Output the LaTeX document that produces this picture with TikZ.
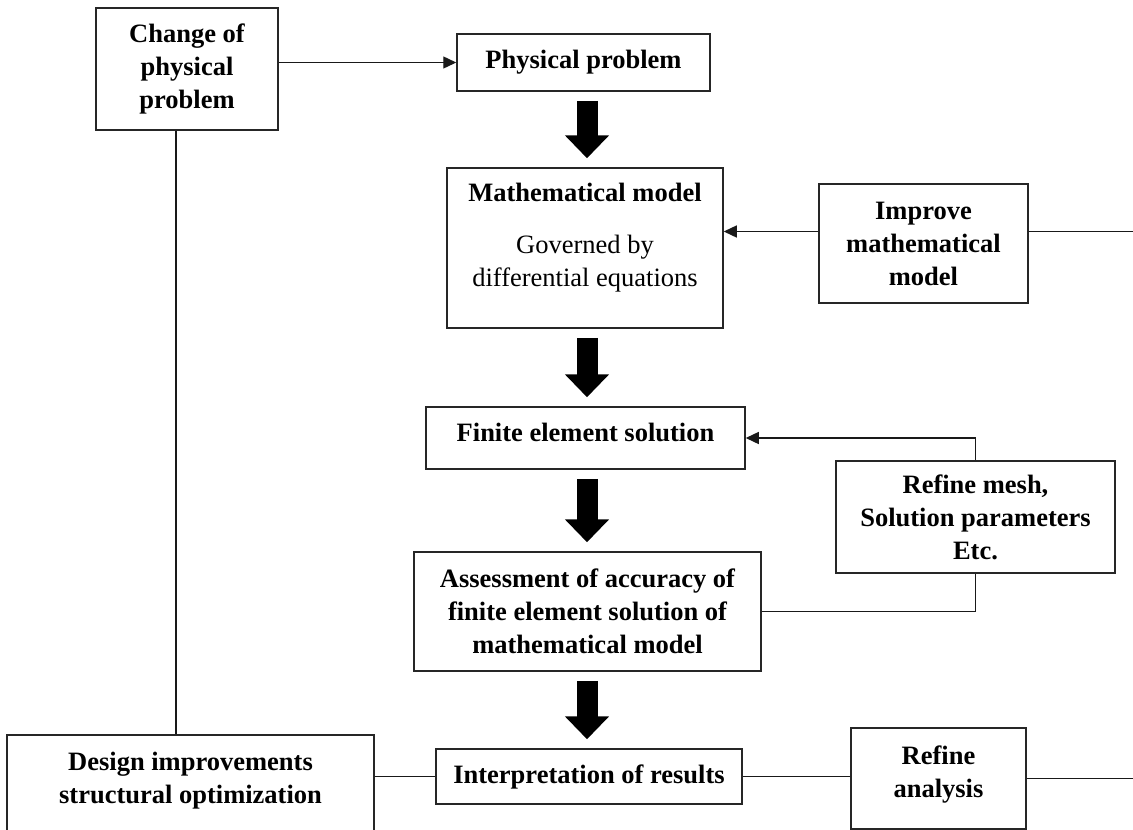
\documentclass[tikz,border=0pt]{standalone}
\usepackage{fontspec}
\setmainfont{Liberation Serif}
\usepackage{xcolor}
\usepackage{tikz}
\usetikzlibrary{arrows.meta,positioning,calc}

\begin{document}
\begin{tikzpicture}[
  x=1pt, y=-1pt,
  box/.style={draw=black!85, line width=1.5pt, rectangle, align=center, inner sep=0pt,
    font=\fontsize{26.5}{33}\selectfont\bfseries},
  ptr/.style={->, >={Triangle[length=13pt,width=12pt]}, line width=1.4pt, black!90},
  link/.style={line width=1.4pt, black!90},
  bigarrow/.style={-{Triangle[length=23pt,width=43pt]}, line width=21pt, black,
    shorten <=9pt, shorten >=9pt}
]
\useasboundingbox (0,0) rectangle (1133,830);
\clip (0,0) rectangle (1133,830);
\coordinate (axis) at (587,0);
\coordinate (rightedge) at (1145,0);

\node[box, minimum width=182pt, minimum height=122pt] (change) at (187,69) {Change of\\physical\\problem};
\node[box, minimum width=253pt, minimum height=57pt] (phys) at (583.5,62.5) {Physical problem};
\node[box, minimum width=276pt, minimum height=160pt, text depth=26pt] (math) at (585,248)
  {Mathematical model\\[19pt]\mdseries Governed by\\\mdseries differential equations};
\node[box, minimum width=209pt, minimum height=119pt] (improve) at (923.5,243.5) {Improve\\mathematical\\model};
\node[box, minimum width=319pt, minimum height=62pt, text depth=12pt] (fe) at (585.5,438) {Finite element solution};
\node[box, minimum width=279pt, minimum height=112pt] (refmesh) at (975.5,517) {Refine mesh,\\Solution parameters\\Etc.};
\node[box, minimum width=347pt, minimum height=119pt] (assess) at (587.5,611.5)
  {Assessment of accuracy of\\finite element solution of\\mathematical model};
\node[box, minimum width=367pt, minimum height=105pt, text depth=20pt] (design) at (190.5,787.5)
  {Design improvements\\structural optimization};
\node[box, minimum width=306pt, minimum height=55pt] (interp) at (589,776.5) {Interpretation of results};
\node[box, minimum width=175pt, minimum height=101pt, text depth=14pt] (refana) at (938.5,778.5) {Refine\\analysis};

\draw[bigarrow] (phys.south -| axis) -- (math.north -| axis);
\draw[bigarrow] (math.south -| axis) -- (fe.north -| axis);
\draw[bigarrow] (fe.south -| axis) -- (assess.north -| axis);
\draw[bigarrow] (assess.south -| axis) -- (interp.north -| axis);

\draw[ptr] (change.east |- phys.west) -- (phys.west);
\draw[ptr] ([yshift=12pt]improve.west) -- ([yshift=12pt]improve.west -| math.east);
\draw[link] ([yshift=12pt]improve.east) -- ([yshift=12pt]improve.east -| rightedge);
\draw[ptr] (refmesh.north) |- (fe.east);
\draw[link] (assess.east) -| (refmesh.south);
\draw[link] ([xshift=-11pt]change.south) -- ([xshift=-11pt]change.south |- design.north);
\draw[link] (design.east |- interp.west) -- (interp.west);
\draw[link] (interp.east) -- (interp.east -| refana.west);
\draw[link] (refana.east) -- (refana.east -| rightedge);
\end{tikzpicture}
\end{document}
